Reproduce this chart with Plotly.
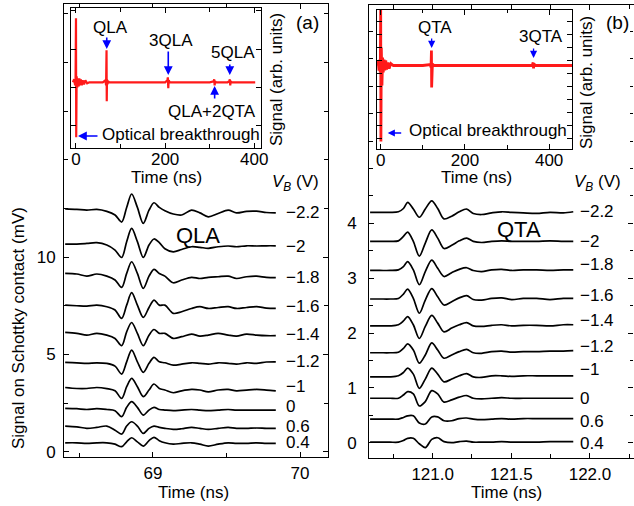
import plotly.graph_objects as go

W, H = 634, 506
def px(x): return x / W
def py(y): return 1 - y / H

# ---------------- data: panel (a) QLA ----------------
t_a = [68.403, 68.482, 68.550, 68.618, 68.686, 68.742, 68.787, 68.821, 68.855, 68.894,
       68.934, 68.973, 69.007, 69.043, 69.081, 69.138, 69.195, 69.262, 69.319, 69.376,
       69.443, 69.511, 69.568, 69.636, 69.704, 69.771, 69.835]
qla_m2_2 = [12.48, 12.45, 12.41, 12.45, 12.35, 12.16, 11.80, 12.55, 13.24, 12.55, 11.73, 12.41, 12.79, 12.55,
            12.38, 12.21, 12.16, 12.41, 12.27, 12.07, 12.24, 12.41, 12.27, 12.35, 12.36, 12.29, 12.27]
qla_m2_0 = [10.67, 10.67, 10.70, 10.74, 10.62, 10.36, 9.98, 10.79, 11.47, 10.79, 9.98, 10.62, 10.93, 10.74,
            10.43, 10.27, 10.39, 10.53, 10.50, 10.45, 10.53, 10.57, 10.53, 10.58, 10.57, 10.58, 10.58]
qla_m1_8 = [9.16, 9.13, 9.02, 9.13, 9.02, 8.82, 8.44, 9.16, 9.76, 9.16, 8.39, 9.02, 9.37, 9.16,
            9.02, 8.68, 8.82, 8.96, 8.90, 8.96, 8.99, 9.02, 8.90, 8.99, 9.02, 8.96, 8.94]
qla_m1_6 = [7.53, 7.50, 7.48, 7.53, 7.45, 7.28, 6.85, 7.53, 8.17, 7.53, 6.90, 7.41, 7.79, 7.53,
            7.53, 7.11, 7.19, 7.36, 7.45, 7.36, 7.41, 7.45, 7.36, 7.41, 7.45, 7.38, 7.36]
qla_m1_4 = [6.13, 6.08, 5.99, 6.08, 5.99, 5.82, 5.45, 6.16, 6.64, 6.08, 5.45, 5.99, 6.28, 6.08,
            6.08, 5.82, 5.91, 6.04, 5.94, 5.99, 6.08, 5.99, 5.94, 6.04, 5.99, 5.96, 5.96]
qla_m1_2 = [4.59, 4.57, 4.54, 4.57, 4.54, 4.40, 3.99, 4.62, 5.22, 4.62, 4.08, 4.54, 4.85, 4.62,
            4.57, 4.45, 4.50, 4.57, 4.54, 4.50, 4.57, 4.54, 4.50, 4.57, 4.54, 4.61, 4.62]
qla_m1_0 = [3.30, 3.25, 3.25, 3.30, 3.24, 3.13, 2.74, 3.34, 3.77, 3.34, 2.83, 3.17, 3.48, 3.25,
            3.17, 3.03, 3.13, 3.20, 3.17, 3.08, 3.17, 3.20, 3.13, 3.17, 3.20, 3.17, 3.13]
qla_p0_0 = [2.23, 2.21, 2.17, 2.21, 2.17, 2.11, 1.80, 2.28, 2.57, 2.28, 1.88, 2.14, 2.28, 2.17,
            2.14, 2.11, 2.14, 2.17, 2.14, 2.11, 2.14, 2.17, 2.14, 2.14, 2.14, 2.14, 2.14]
qla_p0_6 = [1.32, 1.28, 1.20, 1.25, 1.32, 1.11, 0.91, 1.32, 1.54, 1.32, 0.94, 1.20, 1.32, 1.25,
            1.20, 1.15, 1.18, 1.25, 1.20, 1.15, 1.20, 1.25, 1.20, 1.20, 1.22, 1.20, 1.20]
qla_p0_4 = [0.46, 0.46, 0.43, 0.46, 0.46, 0.39, 0.26, 0.51, 0.72, 0.51, 0.29, 0.57, 0.74, 0.57,
            0.46, 0.39, 0.43, 0.46, 0.39, 0.29, 0.39, 0.46, 0.43, 0.43, 0.46, 0.43, 0.43]
qla_traces = [qla_m2_2, qla_m2_0, qla_m1_8, qla_m1_6, qla_m1_4, qla_m1_2, qla_m1_0, qla_p0_0, qla_p0_6, qla_p0_4]

vb_labels = ["−2.2", "−2", "−1.8", "−1.6", "−1.4", "−1.2", "−1", "0", "0.6", "0.4"]
qla_label_y = [12.28, 10.56, 8.94, 7.48, 6.03, 4.66, 3.36, 2.31, 1.32, 0.46]
qla_label_t = 69.89

# ---------------- data: panel (b) QTA ----------------
t_b = [120.602, 120.665, 120.729, 120.782, 120.814, 120.841, 120.877, 120.915, 120.953, 120.994,
       121.032, 121.072, 121.121, 121.169, 121.216, 121.258, 121.311, 121.375, 121.439, 121.502,
       121.576, 121.661, 121.746, 121.831, 121.894]
qta_m2_2 = [4.20, 4.20, 4.20, 4.21, 4.27, 4.38, 4.26, 4.11, 4.26, 4.41, 4.27, 4.08, 4.13,
            4.21, 4.26, 4.18, 4.16, 4.19, 4.21, 4.20, 4.19, 4.18, 4.20, 4.19, 4.21]
qta_m2_0 = [3.67, 3.67, 3.67, 3.68, 3.76, 3.84, 3.67, 3.40, 3.64, 3.88, 3.73, 3.54, 3.60,
            3.68, 3.73, 3.67, 3.65, 3.67, 3.68, 3.67, 3.67, 3.67, 3.68, 3.67, 3.67]
qta_m1_8 = [3.14, 3.14, 3.14, 3.15, 3.21, 3.30, 3.15, 2.88, 3.12, 3.33, 3.18, 3.03, 3.10,
            3.16, 3.19, 3.14, 3.12, 3.15, 3.16, 3.14, 3.15, 3.15, 3.14, 3.15, 3.15]
qta_m1_6 = [2.62, 2.62, 2.62, 2.63, 2.71, 2.80, 2.63, 2.36, 2.60, 2.81, 2.66, 2.51, 2.57,
            2.64, 2.68, 2.61, 2.60, 2.63, 2.64, 2.61, 2.63, 2.63, 2.61, 2.63, 2.63]
qta_m1_4 = [2.13, 2.13, 2.13, 2.15, 2.22, 2.30, 2.15, 1.90, 2.12, 2.32, 2.18, 2.02, 2.09,
            2.15, 2.19, 2.13, 2.12, 2.14, 2.15, 2.13, 2.14, 2.14, 2.13, 2.15, 2.15]
qta_m1_2 = [1.64, 1.64, 1.64, 1.65, 1.72, 1.80, 1.69, 1.45, 1.60, 1.82, 1.69, 1.54, 1.60,
            1.66, 1.70, 1.64, 1.63, 1.66, 1.67, 1.65, 1.66, 1.66, 1.67, 1.67, 1.68]
qta_m1_0 = [1.20, 1.20, 1.20, 1.22, 1.28, 1.36, 1.25, 0.99, 1.16, 1.36, 1.25, 1.11, 1.16,
            1.22, 1.26, 1.20, 1.19, 1.22, 1.22, 1.21, 1.22, 1.22, 1.22, 1.22, 1.22]
qta_p0_0 = [0.81, 0.81, 0.81, 0.81, 0.87, 0.93, 0.89, 0.67, 0.75, 0.95, 0.89, 0.74, 0.78,
            0.83, 0.86, 0.81, 0.80, 0.81, 0.82, 0.81, 0.81, 0.81, 0.81, 0.81, 0.81]
qta_p0_6 = [0.43, 0.43, 0.43, 0.43, 0.46, 0.49, 0.49, 0.36, 0.34, 0.47, 0.47, 0.40, 0.40,
            0.44, 0.45, 0.43, 0.42, 0.43, 0.44, 0.43, 0.44, 0.44, 0.44, 0.44, 0.44]
qta_p0_4 = [0.01, 0.01, 0.01, 0.01, 0.04, 0.08, 0.08, -0.02, -0.09, 0.06, 0.09, 0.02, 0.00,
            0.02, 0.03, 0.01, 0.01, 0.01, 0.02, 0.01, 0.01, 0.01, 0.02, 0.02, 0.02]
qta_traces = [qta_m2_2, qta_m2_0, qta_m1_8, qta_m1_6, qta_m1_4, qta_m1_2, qta_m1_0, qta_p0_0, qta_p0_6, qta_p0_4]
qta_label_y = [4.21, 3.67, 3.24, 2.69, 2.22, 1.75, 1.34, 0.81, 0.38, -0.01]
qta_label_t = 121.926

# ---------------- data: insets (full time traces) ----------------
ins_a_t = [-7, -4, -2, -1, 0, 0.5, 1.5, 3, 4.5, 6, 7.5, 9, 11, 13, 15, 18, 21, 25, 30, 60,
           66, 67.5, 68.5, 69, 69.5, 70.5, 72, 75, 200, 205, 206, 207, 208, 210, 300, 309,
           310, 311, 312, 314, 340, 344, 345, 346, 347, 349, 402]
ins_a_v = [0, 0.3, -0.3, 0.2, 6.4, -5.5, 0.6, -0.5, 0.4, -0.4, 0.4, -0.3, 0.3, -0.3, 0.2, -0.2, 0.2, -0.1, 0, 0,
           0.2, -0.3, 3.2, -1.9, 0.3, -0.2, 0.1, 0, 0, 0.2, 0.5, -0.6, 0.2, 0, 0, 0.1,
           0.3, -0.3, 0.1, 0, 0, 0.1, 0.3, -0.3, 0.1, 0, 0]
ins_a_peaks = ["QLA", "3QLA", "5QLA", "QLA+2QTA"]
ins_a_peak_t = [69, 207, 345, 311]

ins_b_t = [-9, -6, -4, -2, -1, 0, 0.5, 1.5, 3, 4.5, 6, 8, 10, 12, 14, 17, 20, 24, 30, 100,
           118, 119.5, 120.5, 121, 121.5, 122.5, 124, 127, 360, 362, 363, 364, 366, 455]
ins_b_v = [0, 0.4, -0.5, 0.6, -0.7, 5.6, -7.6, 1.8, -2.0, 0.8, -0.7, 0.6, -0.5, 0.5, -0.4, 0.3, -0.3, 0.2, 0, 0,
           0.1, -0.2, 1.5, -2.2, 0.3, -0.2, 0.1, 0, 0, 0.3, -0.3, 0.2, 0, 0]
ins_b_peaks = ["QTA", "3QTA"]
ins_b_peak_t = [121, 363]

# ---------------- figure ----------------
FONT = "Liberation Sans, Arial, sans-serif"
fig = go.Figure()

for tr in qla_traces:
    fig.add_trace(go.Scatter(x=t_a, y=tr, mode="lines", xaxis="x", yaxis="y",
                             line=dict(color="black", width=1.7, shape="spline", smoothing=0.9),
                             showlegend=False, hoverinfo="skip"))
for tr in qta_traces:
    fig.add_trace(go.Scatter(x=t_b, y=tr, mode="lines", xaxis="x2", yaxis="y2",
                             line=dict(color="black", width=1.7, shape="spline", smoothing=0.9),
                             showlegend=False, hoverinfo="skip"))
fig.add_trace(go.Scatter(x=ins_a_t, y=ins_a_v, mode="lines", xaxis="x3", yaxis="y3",
                         line=dict(color="#ff1a1a", width=2.2), showlegend=False, hoverinfo="skip"))
fig.add_trace(go.Scatter(x=ins_b_t, y=ins_b_v, mode="lines", xaxis="x4", yaxis="y4",
                         line=dict(color="#ff1a1a", width=2.8), showlegend=False, hoverinfo="skip"))

axis_common = dict(showline=True, linecolor="black", linewidth=1.3, mirror="allticks",
                   ticks="inside", ticklen=5, tickwidth=1.1, tickcolor="black",
                   showgrid=False, zeroline=False, automargin=False,
                   tickfont=dict(family=FONT, size=17, color="black"))
minor_common = dict(ticks="inside", ticklen=3.5, tickwidth=1, tickcolor="black", showgrid=False)

fig.update_layout(
    template="none",
    width=W, height=H, margin=dict(l=0, r=0, t=0, b=0, autoexpand=False),
    paper_bgcolor="white", plot_bgcolor="white",
    font=dict(family=FONT, size=17, color="black"),
    xaxis=dict(domain=[px(64.3), px(328)], range=[68.397, 70.19], anchor="y",
               tick0=69, dtick=1, minor=dict(dtick=0.5, **minor_common), **axis_common),
    yaxis=dict(domain=[py(457), py(4)], range=[-0.27, 23.0], anchor="x",
               tickvals=[0, 5, 10], ticklabelstandoff=4,
               minor=dict(tickvals=[2.5, 7.5, 12.5, 15, 17.5, 20, 22.5], **minor_common), **axis_common),
    xaxis2=dict(domain=[px(369.3), px(633.5)], range=[120.597, 122.277], anchor="y2",
                tick0=121, dtick=0.5, tickformat=".1f",
                minor=dict(dtick=0.25, tick0=121, **minor_common), **axis_common),
    yaxis2=dict(domain=[py(458), py(5)], range=[-0.279, 7.98], anchor="x2",
                tickvals=[0, 1, 2, 3, 4], ticklabelstandoff=8,
                minor=dict(tickvals=[0.5, 1.5, 2.5, 3.5, 4.5, 5, 5.5, 6, 6.5, 7, 7.5], **minor_common),
                **axis_common),
    xaxis3=dict(domain=[px(71), px(261)], range=[-11.2, 415], anchor="y3",
                tickvals=[0, 200, 400], ticklabelstandoff=-5,
                minor=dict(dtick=100, tick0=0, **minor_common), **axis_common),
    yaxis3=dict(domain=[py(148), py(8)], range=[-6.57, 7.43], anchor="x3",
                showticklabels=False, tick0=-0.5, dtick=3.83, **axis_common),
    xaxis4=dict(domain=[px(376.7), px(572.3)], range=[-9.5, 455], anchor="y4",
                tickvals=[0, 200, 400], ticklabelstandoff=-5,
                minor=dict(dtick=100, tick0=0, **minor_common), **axis_common),
    yaxis4=dict(domain=[py(149), py(9.5)], range=[-8.35, 5.6], anchor="x4",
                showticklabels=False, tick0=0.55, dtick=1.3, **axis_common),
)

ann = []
def text(x, y, s, size=17, angle=0, xanchor="center"):
    ann.append(dict(x=px(x), y=py(y), xref="paper", yref="paper", text=s, showarrow=False,
                    xanchor=xanchor, yanchor="middle", textangle=angle,
                    font=dict(family=FONT, size=size, color="black")))

# voltage labels next to traces
for lab, yv in zip(vb_labels, qla_label_y):
    ann.append(dict(x=qla_label_t, y=yv, xref="x", yref="y", text=lab, showarrow=False,
                    xanchor="left", yanchor="middle", font=dict(family=FONT, size=17, color="black")))
for lab, yv in zip(vb_labels, qta_label_y):
    ann.append(dict(x=qta_label_t, y=yv, xref="x2", yref="y2", text=lab, showarrow=False,
                    xanchor="left", yanchor="middle", font=dict(family=FONT, size=17, color="black")))

# titles / labels
text(18, 328, "Signal on Schottky contact (mV)", angle=-90)
text(193, 492, "Time (ns)")
text(506, 492, "Time (ns)")
text(166, 177, "Time (ns)")
text(476, 178, "Time (ns)")
text(277, 80, "Signal (arb. units)", angle=-90)
text(587, 83, "Signal (arb. units)", angle=-90)
text(307, 23, "(a)", size=19)
text(617, 23, "(b)", size=19)
text(295, 183, "<i>V</i><sub><i>B</i></sub> (V)", size=17)
text(597, 183, "<i>V</i><sub><i>B</i></sub> (V)", size=17)
text(198, 235, "QLA", size=22)
text(519, 229, "QTA", size=22)

# inset labels and arrows
lab_pos_a = {"QLA": (110, 27.5), "3QLA": (171, 41), "5QLA": (232.5, 52.5), "QLA+2QTA": (212, 111)}
arrow_a = {"QLA": (49, -13), "3QLA": (75, -25), "5QLA": (75, -12), "QLA+2QTA": (86, 14)}
for name, tt in zip(ins_a_peaks, ins_a_peak_t):
    text(*lab_pos_a[name], name)
    tip_y, off = arrow_a[name]
    ann.append(dict(x=tt, y=(82.3 - tip_y) / 10, xref="x3", yref="y3", text="", showarrow=True,
                    ax=0, ay=off, arrowhead=2, arrowsize=1.1, arrowwidth=1.6, arrowcolor="blue"))
lab_pos_b = {"QTA": (435.5, 27), "3QTA": (541, 36)}
arrow_b = {"QTA": (48, -11), "3QTA": (58, -11)}
for name, tt in zip(ins_b_peaks, ins_b_peak_t):
    text(*lab_pos_b[name], name)
    tip_y, off = arrow_b[name]
    ann.append(dict(x=tt, y=(65.5 - tip_y) / 10, xref="x4", yref="y4", text="", showarrow=True,
                    ax=0, ay=off, arrowhead=2, arrowsize=1.1, arrowwidth=1.3, arrowcolor="blue"))

text(181, 134, "Optical breakthrough")
text(487.5, 130.5, "Optical breakthrough")
ann.append(dict(x=0, y=(82.3 - 136) / 10, xref="x3", yref="y3", xshift=2, text="", showarrow=True,
                ax=21, ay=0, arrowhead=2, arrowsize=1.1, arrowwidth=1.6, arrowcolor="blue"))
ann.append(dict(x=0, y=(65.5 - 133) / 10, xref="x4", yref="y4", xshift=7, text="", showarrow=True,
                ax=15, ay=0, arrowhead=2, arrowsize=1.1, arrowwidth=1.3, arrowcolor="blue"))

fig.update_layout(annotations=ann)
fig.write_html("out.html", config={"displayModeBar": False},
               post_script="document.body.style.margin='0';")
